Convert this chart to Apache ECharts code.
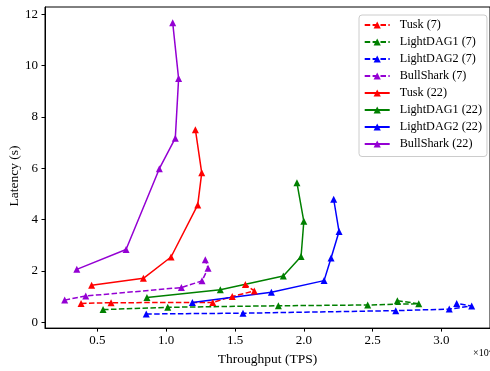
<!DOCTYPE html>
<html>
<head>
<meta charset="utf-8">
<script src="https://cdn.jsdelivr.net/npm/echarts@6/dist/echarts.min.js"></script>
<style>html,body{margin:0;padding:0;background:#fff;}#c{width:490px;height:371px;}</style>
</head>
<body>
<div id="c"></div>
<script>
// Throughput in units of 1e4 TPS, latency in seconds
const tusk7 = [[0.381,0.73],[0.599,0.76],[1.338,0.77],[1.48,1.00],[1.64,1.22],[1.575,1.47]];
const lightdag1_7 = [[0.541,0.49],[1.011,0.58],[1.815,0.64],[2.464,0.67],[2.835,0.72],[2.68,0.84]];
const lightdag2_7 = [[0.855,0.32],[1.558,0.35],[2.668,0.45],[3.057,0.51],[3.22,0.63],[3.111,0.73]];
const bullshark7 = [[0.262,0.86],[0.415,1.02],[1.11,1.35],[1.26,1.61],[1.304,2.10],[1.284,2.43]];
const tusk22 = [[0.458,1.44],[0.834,1.71],[1.035,2.54],[1.229,4.57],[1.258,5.82],[1.212,7.50]];
const lightdag1_22 = [[0.86,0.96],[1.393,1.26],[1.851,1.80],[1.98,2.56],[2.0,3.93],[1.95,5.43]];
const lightdag2_22 = [[1.19,0.77],[1.764,1.17],[2.147,1.62],[2.198,2.50],[2.256,3.53],[2.217,4.79]];
const bullshark22 = [[0.35,2.06],[0.708,2.83],[0.95,5.98],[1.066,7.17],[1.09,9.49],[1.047,11.67]];

const seriesNames = ['Tusk (7)','LightDAG1 (7)','LightDAG2 (7)','BullShark (7)','Tusk (22)','LightDAG1 (22)','LightDAG2 (22)','BullShark (22)'];
const seriesData = [tusk7, lightdag1_7, lightdag2_7, bullshark7, tusk22, lightdag1_22, lightdag2_22, bullshark22];
const seriesColors = ['#ff0000','#008000','#0000ff','#9400d3','#ff0000','#008000','#0000ff','#9400d3'];
const seriesDashed = [true,true,true,true,false,false,false,false];

const xTicks = [0.5,1.0,1.5,2.0,2.5,3.0];
const yTicks = [0,2,4,6,8,10,12];

const FONT = 'Liberation Serif';
const chart = echarts.init(document.getElementById('c'), null, {renderer:'canvas'});
chart.setOption({
  animation: false,
  backgroundColor: '#fff',
  grid: {left:45, right:0, top:7, bottom:40, show:true, borderColor:'#000', borderWidth:1, containLabel:false},
  xAxis: {
    type:'value', min:0.119, max:3.353,
    name:'Throughput (TPS)', nameLocation:'middle', nameGap:22,
    nameTextStyle:{fontFamily:FONT, fontSize:13.5, color:'#000'},
    axisLine:{show:true, onZero:false, lineStyle:{color:'#000', width:1}},
    axisTick:{show:true, length:3.5, customValues:xTicks, lineStyle:{color:'#000'}},
    axisLabel:{customValues:xTicks, formatter:v=>v.toFixed(1), fontFamily:FONT, fontSize:13, color:'#000', margin:6},
    splitLine:{show:false}
  },
  yAxis: {
    type:'value', min:-0.23, max:12.28,
    axisLine:{show:true, onZero:false, lineStyle:{color:'#000', width:1}},
    axisTick:{show:true, length:3.5, customValues:yTicks, lineStyle:{color:'#000'}},
    axisLabel:{customValues:yTicks, formatter:v=>String(Math.round(v)), fontFamily:FONT, fontSize:13, color:'#000', margin:7},
    splitLine:{show:false}
  },
  legend: {
    orient:'vertical', left:359, top:15,
    data: seriesNames,
    backgroundColor:'#fff', borderColor:'#cccccc', borderWidth:1, borderRadius:3,
    padding:[3.5,5,6,4.7],
    itemWidth:25, itemHeight:9, itemGap:4,
    textStyle:{fontFamily:FONT, fontSize:12.2, color:'#000', lineHeight:13, padding:[0,0,0,5]}
  },
  graphic: [
    {type:'text', x:14, y:176, rotation:Math.PI/2,
     style:{text:'Latency (s)', font:'13.5px "Liberation Serif"', fill:'#000', textAlign:'center', textVerticalAlign:'middle'}},
    {type:'text', x:473, y:348, style:{text:'×10⁴', font:'10px "Liberation Serif"', fill:'#000'}}
  ],
  series: seriesNames.map((n,i)=>({
    name:n, type:'line', data:seriesData[i],
    symbol:'triangle', symbolSize:7, showSymbol:true,
    itemStyle:{color:seriesColors[i]},
    lineStyle:{color:seriesColors[i], width:1.5, type: seriesDashed[i] ? [5.5,2.4] : 'solid'},
    emphasis:{disabled:true}
  }))
});
</script>
</body>
</html>
